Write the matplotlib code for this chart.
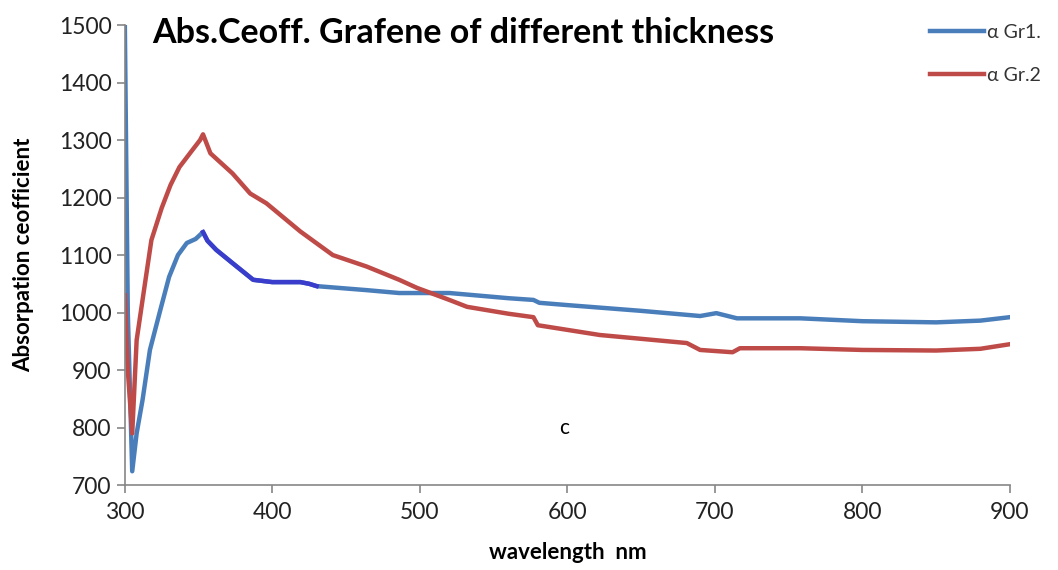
import matplotlib
matplotlib.use("Agg")
import matplotlib.pyplot as plt

# Abs. coefficient of graphene films.
wl_gr1 = [300, 302, 305, 308, 312, 317, 324, 330, 336, 342, 348, 353, 356,
          362, 373, 387, 400, 419, 425, 430, 464, 486, 520, 560, 577, 581,
          600, 650, 690, 701, 715, 758, 800, 850, 880, 900]
alpha_gr1 = [1500, 1000, 724, 790, 848, 935, 1004, 1062, 1100, 1121, 1128,
             1140, 1125, 1109, 1086, 1057, 1053, 1053, 1050, 1046, 1039, 1034,
             1034, 1025, 1022, 1017, 1013, 1003, 994, 999, 990, 990, 985, 983,
             986, 992]

wl_gr2 = [300, 302, 305, 308, 312, 318, 325, 331, 337, 345, 351, 353, 358,
          373, 385, 396, 419, 441, 464, 486, 498, 520, 532, 560, 577, 580,
          622, 681, 690, 712, 717, 758, 800, 850, 880, 900]
alpha_gr2 = [1030, 900, 790, 952, 1022, 1126, 1182, 1222, 1253, 1280, 1300,
             1310, 1277, 1242, 1207, 1190, 1141, 1100, 1080, 1057, 1043, 1022,
             1010, 998, 992, 978, 961, 947, 935, 931, 938, 938, 935, 934, 937,
             945]

# stretch of Gr1 drawn in a darker blue in the original
dark_start, dark_end = 11, 20

BLUE = "#4a7ebb"
DARK_BLUE = "#3a3ccc"
RED = "#be4b48"
GREY = "#868686"

plt.rcParams["font.family"] = ["Lato", "DejaVu Sans"]

fig = plt.figure(figsize=(10.58, 5.70), dpi=100)
ax = fig.add_axes([0.118, 0.149, 0.8365, 0.807])

ax.plot(wl_gr1, alpha_gr1, color=BLUE, lw=3.2, label="α Gr1.", solid_joinstyle="round")
ax.plot(wl_gr1[dark_start:dark_end], alpha_gr1[dark_start:dark_end],
        color=DARK_BLUE, lw=3.2, solid_joinstyle="round")
ax.plot(wl_gr2, alpha_gr2, color=RED, lw=3.2, label="α Gr.2", solid_joinstyle="round")

ax.set_xlim(300, 900)
ax.set_ylim(700, 1500)
ax.set_xticks(range(300, 901, 100))
ax.set_yticks(range(700, 1501, 100))
ax.tick_params(axis="both", colors=GREY, labelcolor="#222222", labelsize=16.5,
               length=6, width=1.2)
ax.tick_params(axis="x", pad=6)
for side in ("top", "right"):
    ax.spines[side].set_visible(False)
for side in ("left", "bottom"):
    ax.spines[side].set_color(GREY)
    ax.spines[side].set_linewidth(1.2)

ax.set_xlabel("wavelength  nm", fontsize=16, fontweight="bold", labelpad=14)
ax.set_ylabel("Absorpation ceofficient", fontsize=16, fontweight="bold", labelpad=18)

fig.text(152 / 1058, 1 - 33 / 570, "Abs.Ceoff. Grafene of different thickness",
         fontsize=24.5, fontweight="bold", va="center", ha="left")
ax.text(598, 800, "c", fontsize=15, ha="center", va="center")

fig.legend(loc="upper left", bbox_to_anchor=(922 / 1058, 1 - 16 / 570),
           frameon=False, fontsize=14, handlelength=2.8, handletextpad=0.15,
           labelspacing=1.35, borderaxespad=0, labelcolor="#333333")

fig.savefig("out.png", dpi=100)
